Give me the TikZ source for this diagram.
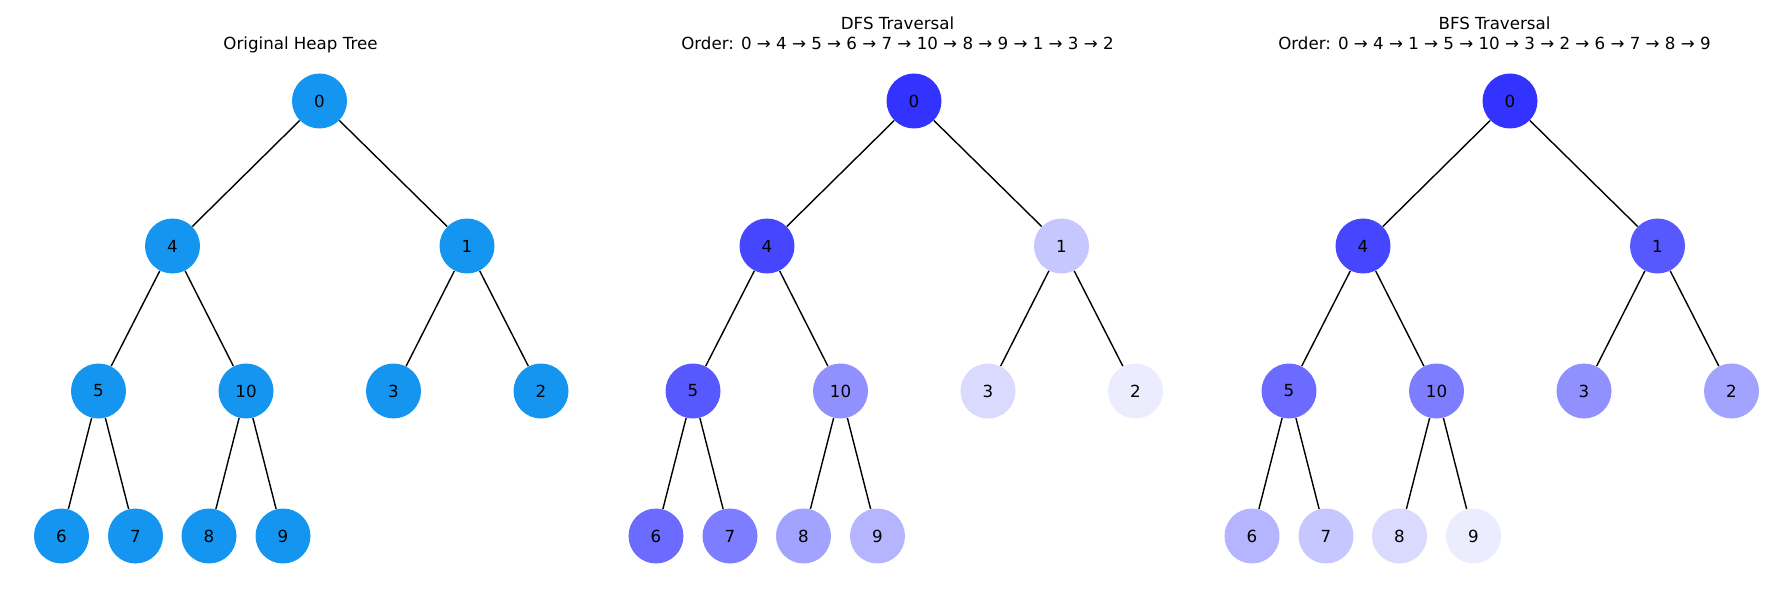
\documentclass[tikz,border=0pt]{standalone}
\usepackage{fontspec}
\setmainfont{DejaVu Sans}
\definecolor{heapblue}{RGB}{20,150,240}
\begin{document}
\begin{tikzpicture}[x=0.5pt, y=-0.5pt,
  vertex/.style={circle, minimum size=27.5pt, inner sep=0pt, font=\fontsize{8.33}{10}\selectfont},
  title/.style={anchor=base, inner sep=0pt, font=\fontsize{8.33}{10}\selectfont},
  edge/.style={black, line width=0.7pt}]
\useasboundingbox (0, 0) rectangle (1786, 593);

\node[title] (htitle) at (300.5, 50) {Original Heap Tree};

\node[vertex, fill=heapblue] (h0) at (319.5, 101) {0};
\node[vertex, fill=heapblue] (h4) at (172.5, 246) {4};
\node[vertex, fill=heapblue] (h1) at (467, 246) {1};
\node[vertex, fill=heapblue] (h5) at (98.5, 391) {5};
\node[vertex, fill=heapblue] (h10) at (246, 391) {10};
\node[vertex, fill=heapblue] (h3) at (393.5, 391) {3};
\node[vertex, fill=heapblue] (h2) at (541, 391) {2};
\node[vertex, fill=heapblue] (h6) at (61.5, 536) {6};
\node[vertex, fill=heapblue] (h7) at (135.5, 536) {7};
\node[vertex, fill=heapblue] (h8) at (209, 536) {8};
\node[vertex, fill=heapblue] (h9) at (283, 536) {9};

\draw[edge] (h0) -- (h4);
\draw[edge] (h0) -- (h1);
\draw[edge] (h4) -- (h5);
\draw[edge] (h4) -- (h10);
\draw[edge] (h1) -- (h3);
\draw[edge] (h1) -- (h2);
\draw[edge] (h5) -- (h6);
\draw[edge] (h5) -- (h7);
\draw[edge] (h10) -- (h8);
\draw[edge] (h10) -- (h9);


\node[title] (dtitle) at (897.5, 30) {DFS Traversal};
\node[title] (dorder) at (897.5, 50) {Order: 0 → 4 → 5 → 6 → 7 → 10 → 8 → 9 → 1 → 3 → 2};

\node[vertex, fill=blue!80] (d0) at (914, 101) {0};
\node[vertex, fill=blue!72.7] (d4) at (767, 246) {4};
\node[vertex, fill=blue!21.8] (d1) at (1061.5, 246) {1};
\node[vertex, fill=blue!65.5] (d5) at (693, 391) {5};
\node[vertex, fill=blue!43.6] (d10) at (840.5, 391) {10};
\node[vertex, fill=blue!14.5] (d3) at (988, 391) {3};
\node[vertex, fill=blue!7.3] (d2) at (1135.5, 391) {2};
\node[vertex, fill=blue!58.2] (d6) at (656, 536) {6};
\node[vertex, fill=blue!50.9] (d7) at (730, 536) {7};
\node[vertex, fill=blue!36.4] (d8) at (803.5, 536) {8};
\node[vertex, fill=blue!29.1] (d9) at (877.5, 536) {9};

\draw[edge] (d0) -- (d4);
\draw[edge] (d0) -- (d1);
\draw[edge] (d4) -- (d5);
\draw[edge] (d4) -- (d10);
\draw[edge] (d1) -- (d3);
\draw[edge] (d1) -- (d2);
\draw[edge] (d5) -- (d6);
\draw[edge] (d5) -- (d7);
\draw[edge] (d10) -- (d8);
\draw[edge] (d10) -- (d9);


\node[title] (btitle) at (1494.5, 30) {BFS Traversal};
\node[title] (border) at (1494.5, 50) {Order: 0 → 4 → 1 → 5 → 10 → 3 → 2 → 6 → 7 → 8 → 9};

\node[vertex, fill=blue!80] (b0) at (1510, 101) {0};
\node[vertex, fill=blue!72.7] (b4) at (1363, 246) {4};
\node[vertex, fill=blue!65.5] (b1) at (1657.5, 246) {1};
\node[vertex, fill=blue!58.2] (b5) at (1289, 391) {5};
\node[vertex, fill=blue!50.9] (b10) at (1436.5, 391) {10};
\node[vertex, fill=blue!43.6] (b3) at (1584, 391) {3};
\node[vertex, fill=blue!36.4] (b2) at (1731.5, 391) {2};
\node[vertex, fill=blue!29.1] (b6) at (1252, 536) {6};
\node[vertex, fill=blue!21.8] (b7) at (1326, 536) {7};
\node[vertex, fill=blue!14.5] (b8) at (1399.5, 536) {8};
\node[vertex, fill=blue!7.3] (b9) at (1473.5, 536) {9};

\draw[edge] (b0) -- (b4);
\draw[edge] (b0) -- (b1);
\draw[edge] (b4) -- (b5);
\draw[edge] (b4) -- (b10);
\draw[edge] (b1) -- (b3);
\draw[edge] (b1) -- (b2);
\draw[edge] (b5) -- (b6);
\draw[edge] (b5) -- (b7);
\draw[edge] (b10) -- (b8);
\draw[edge] (b10) -- (b9);

\end{tikzpicture}
\end{document}
